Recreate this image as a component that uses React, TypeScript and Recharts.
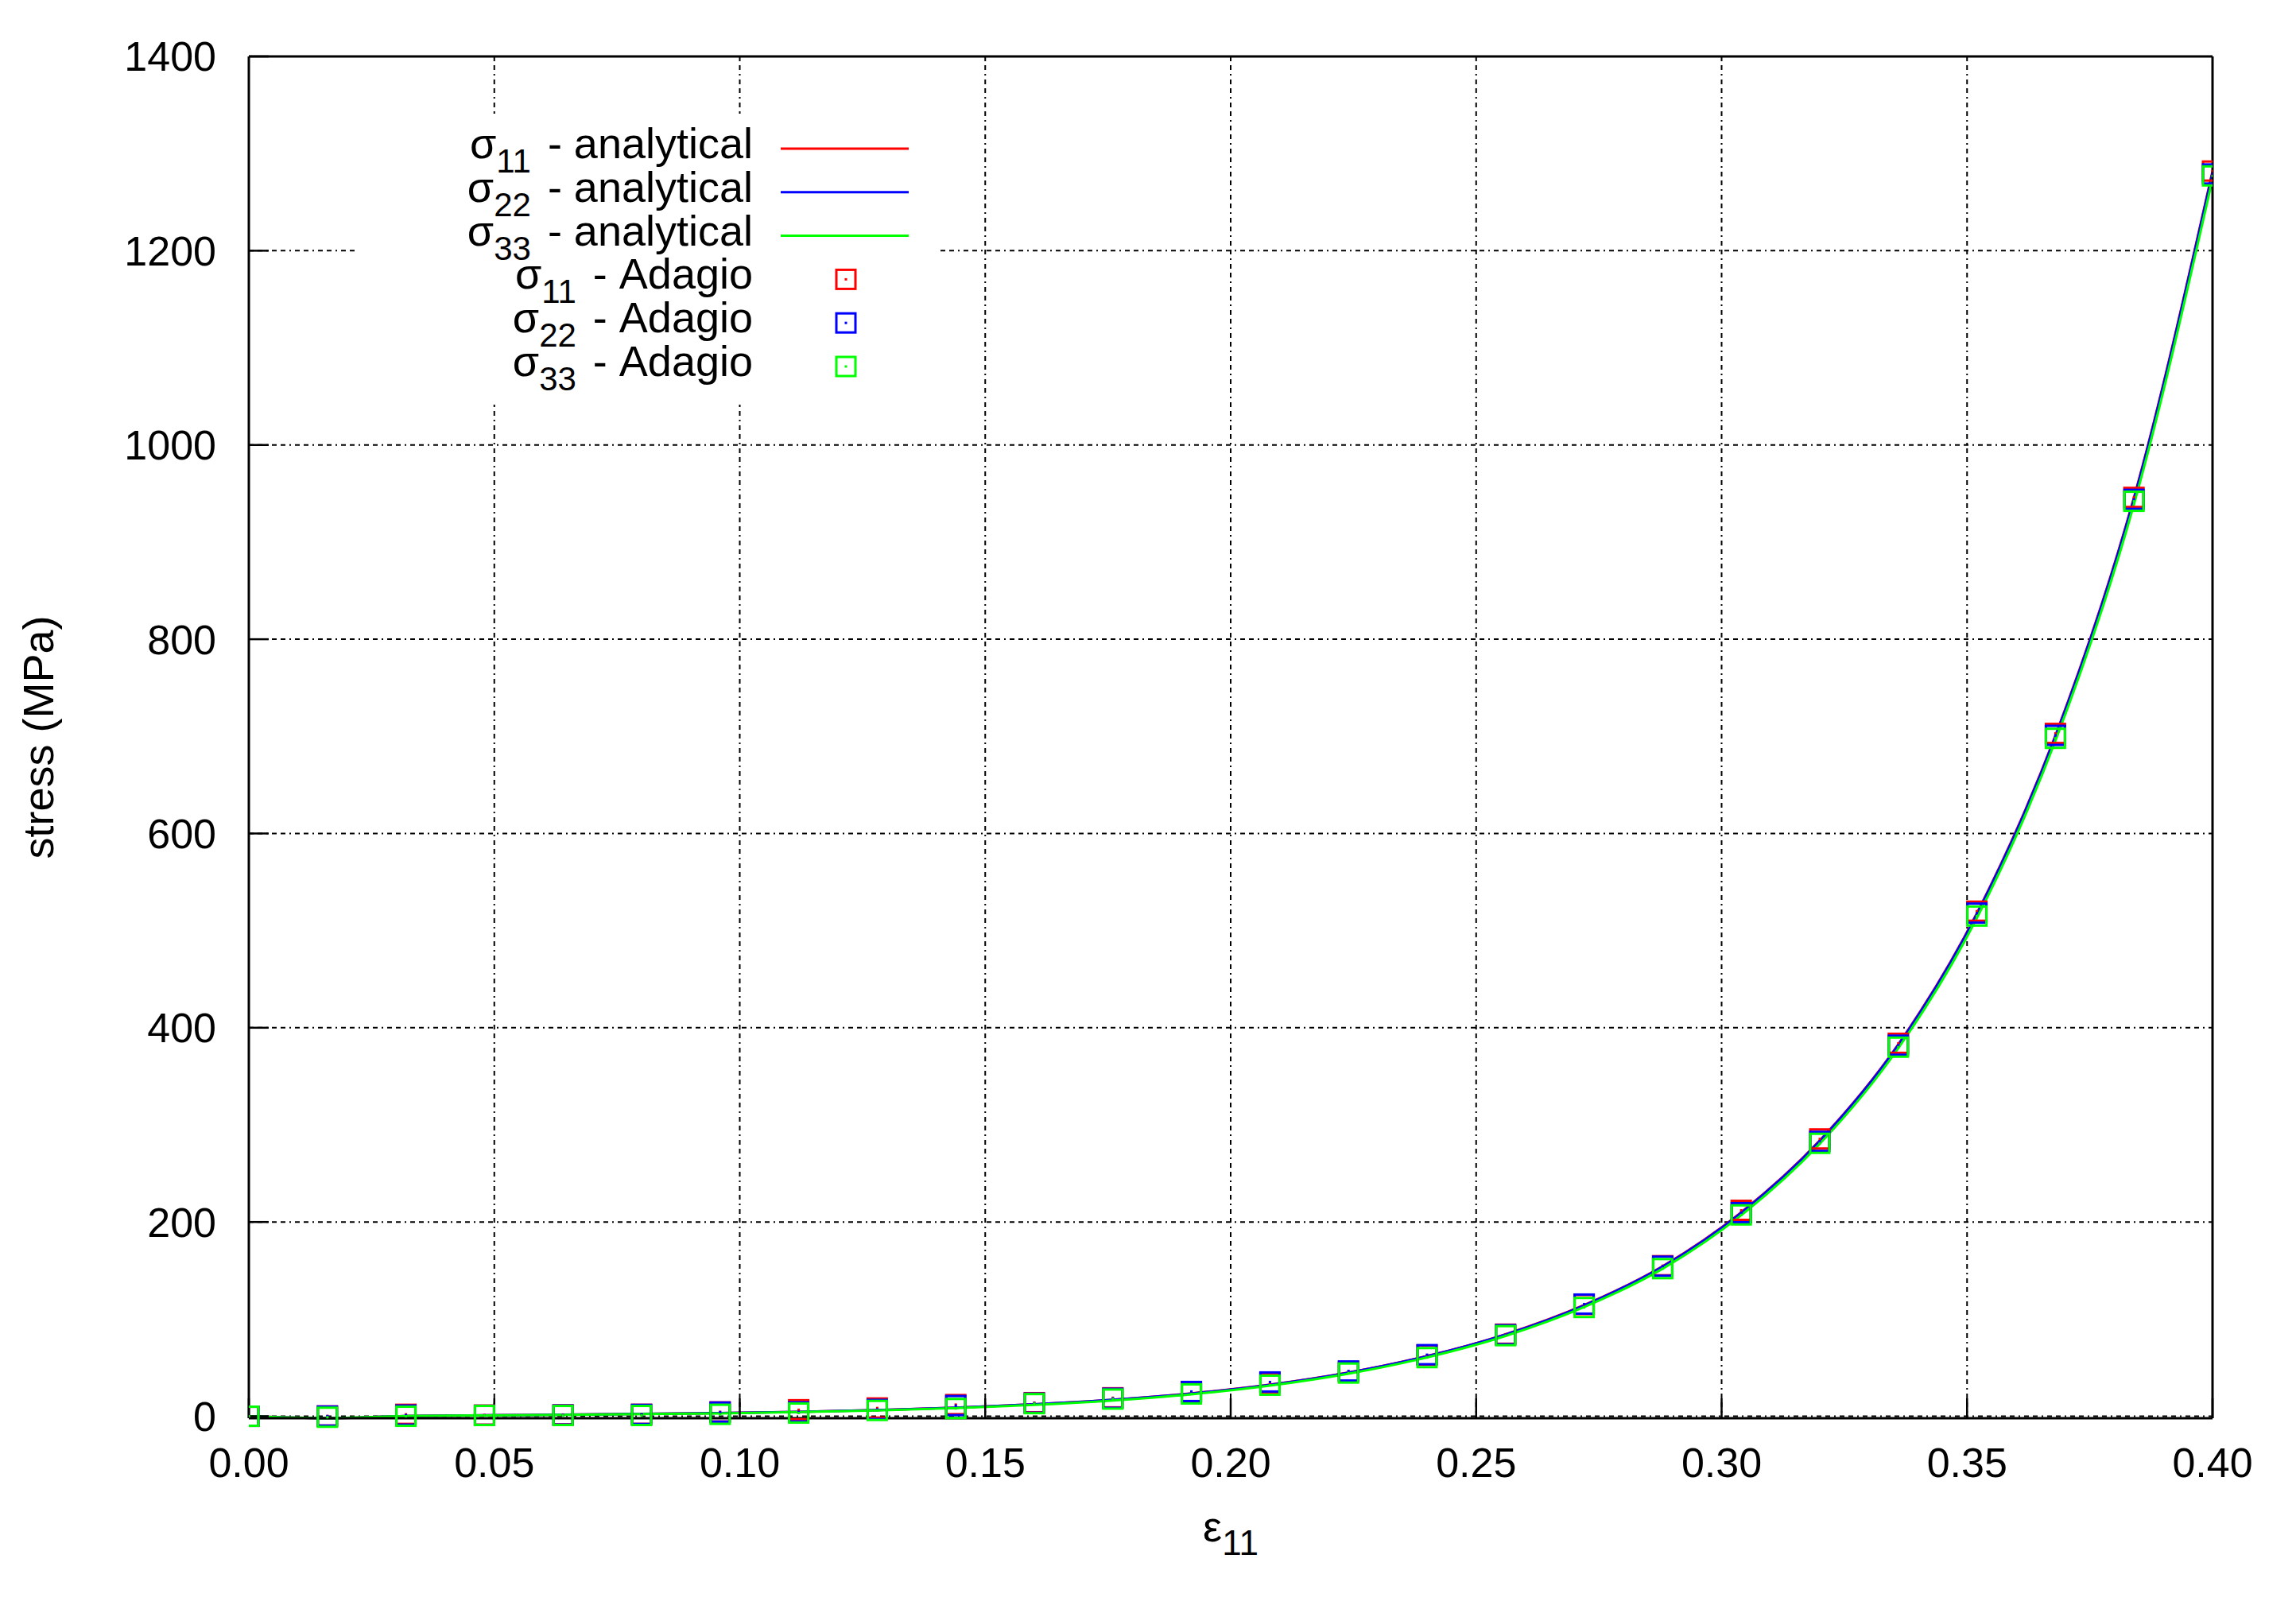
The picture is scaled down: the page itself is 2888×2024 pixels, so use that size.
import React from "react";
import {
  ComposedChart,
  Line,
  Scatter,
  XAxis,
  YAxis,
  CartesianGrid,
  Legend,
  Label,
} from "recharts";

// strain steps (epsilon_11)
const strain = [
  0, 0.016, 0.032, 0.048, 0.064, 0.08, 0.096, 0.112, 0.128, 0.144, 0.16, 0.176,
  0.192, 0.208, 0.224, 0.24, 0.256, 0.272, 0.288, 0.304, 0.32, 0.336, 0.352,
  0.368, 0.384, 0.4,
];

// analytical curves (MPa)
const s11Analytical = [
  0, -2, 0.3, 1, 1.6, 2.4, 3.3, 4.6, 6.4, 8.9, 12.3, 17, 23.5, 32.5, 45, 62,
  84.5, 114.5, 154.5, 210, 284, 383, 518, 701, 946, 1282,
];
const s22Analytical = [
  0, -2, 0.3, 1, 1.6, 2.4, 3.3, 4.6, 6.4, 8.9, 12.3, 17, 23.4, 32.4, 44.9, 61.8,
  84.2, 114.2, 154.1, 209.5, 283.4, 382.3, 517.2, 700, 944.8, 1280.5,
];
const s33Analytical = [
  0, -2, 0.2, 0.9, 1.4, 2.2, 3.0, 4.3, 6.0, 8.4, 11.7, 16.3, 22.6, 31.5, 43.8,
  60.6, 82.7, 112.4, 152, 207, 280.5, 379, 513, 695.5, 939, 1274,
];

// Adagio results (MPa)
const s11Adagio = [
  0, 0.3, 2, 1.2, 1.5, 2, 4.5, 6.7, 8.5, 12, 14, 19, 25, 34.5, 46, 63, 84.5,
  115, 155, 212, 285.5, 384, 520, 703, 946, 1282,
];
const s22Adagio = [
  0, 0.2, 1.2, 1, 1.3, 1.9, 4.3, 4.5, 7, 11, 13.5, 18.5, 25.5, 35.3, 46.6, 63.4,
  84, 115.5, 154.5, 209.6, 283, 382, 518, 701, 944, 1279,
];
const s33Adagio = [
  0, -1, 0, 0.8, 0.8, 0.8, 2, 3.3, 6, 8, 13, 17.7, 23, 32, 44.5, 60.4, 83, 112,
  152, 207.3, 281, 380, 515, 698, 942, 1277,
];

const xTicks = [0, 0.05, 0.1, 0.15, 0.2, 0.25, 0.3, 0.35, 0.4];
const yTicks = [0, 200, 400, 600, 800, 1000, 1200, 1400];

const RED = "#ff0000";
const BLUE = "#0000ff";
const GREEN = "#00ff00";
const FONT = '"Liberation Sans", Arial, Helvetica, sans-serif';

const rows = strain.map((e, i) => ({
  strain: e,
  a11: s11Analytical[i],
  a22: s22Analytical[i],
  a33: s33Analytical[i],
  d11: s11Adagio[i],
  d22: s22Adagio[i],
  d33: s33Adagio[i],
}));

const legendEntries = [
  { sub: "11", text: "analytical", color: RED, kind: "line" },
  { sub: "22", text: "analytical", color: BLUE, kind: "line" },
  { sub: "33", text: "analytical", color: GREEN, kind: "line" },
  { sub: "11", text: "Adagio", color: RED, kind: "box" },
  { sub: "22", text: "Adagio", color: BLUE, kind: "box" },
  { sub: "33", text: "Adagio", color: GREEN, kind: "box" },
];

// gnuplot style hollow box with a centre dot
function boxShape(color: string) {
  return (props: any) => {
    const { cx, cy } = props;
    if (cx == null || cy == null) return <g />;
    return (
      <g>
        <rect x={cx - 12} y={cy - 12} width={24} height={24} fill="none" stroke={color} strokeWidth={3} />
        <rect x={cx - 1.5} y={cy - 1.5} width={3} height={3} fill={color} />
      </g>
    );
  };
}

// key box sits at (448, 143) on the page
function KeyBox() {
  return (
    <svg width={730} height={366} style={{ display: "block", overflow: "visible" }}>
      {legendEntries.map((e, i) => {
        const cy = 44 + 54.8 * i;
        return (
          <g key={i}>
            <text
              x={499}
              y={cy + 12}
              textAnchor="end"
              fontFamily={FONT}
              fontSize={54}
              fill="#000"
              style={{ whiteSpace: "pre" }}
            >
              σ
              <tspan fontSize={42} dy={18}>
                {e.sub}
              </tspan>
              <tspan dy={-18} dx={6}>
                {" - " + e.text}
              </tspan>
            </text>
            {e.kind === "line" ? (
              <line x1={534} x2={695} y1={cy} y2={cy} stroke={e.color} strokeWidth={3} />
            ) : (
              <g>
                <rect x={604} y={cy - 12} width={24} height={24} fill="none" stroke={e.color} strokeWidth={3} />
                <rect x={614.5} y={cy - 1.5} width={3} height={3} fill={e.color} />
              </g>
            )}
          </g>
        );
      })}
    </svg>
  );
}

function XTitle(props: any) {
  const { x, y, width } = props.viewBox;
  return (
    <text x={x + width / 2} y={y + 155} textAnchor="middle" fontFamily={FONT} fontSize={54} fill="#000">
      ε
      <tspan fontSize={44} dy={17}>
        11
      </tspan>
    </text>
  );
}

function YTitle(props: any) {
  const { y, height } = props.viewBox;
  const cx = 67;
  const cy = y + height / 2;
  return (
    <text
      x={cx}
      y={cy}
      transform={`rotate(-90, ${cx}, ${cy})`}
      textAnchor="middle"
      fontFamily={FONT}
      fontSize={54}
      fill="#000"
    >
      stress (MPa)
    </text>
  );
}

const axisLine = { stroke: "#000", strokeWidth: 3 };
const tickLine = { stroke: "#000", strokeWidth: 2.5 };
const tickFont = { fill: "#000", fontSize: 52, fontFamily: FONT };

export default function App() {
  return (
    <div style={{ position: "absolute", left: 0, top: 0, width: 2888, height: 2024, background: "#fff" }}>
      <ComposedChart
        width={2888}
        height={2024}
        data={rows}
        margin={{ top: 70, right: 104, bottom: 0, left: 0 }}
      >
        <CartesianGrid stroke="#000" strokeWidth={2} strokeDasharray="6 5 6 5 2 5" />
        <XAxis
          dataKey="strain"
          type="number"
          domain={[0, 0.4]}
          ticks={xTicks}
          interval={0}
          height={240}
          allowDataOverflow
          tickFormatter={(v: number) => v.toFixed(2)}
          axisLine={axisLine}
          tickLine={tickLine}
          tickSize={-25}
          tickMargin={62}
          tick={tickFont}
        >
          <Label content={XTitle} />
        </XAxis>
        <XAxis
          xAxisId="top"
          orientation="top"
          type="number"
          domain={[0, 0.4]}
          ticks={xTicks}
          interval={0}
          height={1}
          axisLine={axisLine}
          tickLine={tickLine}
          tickSize={-25}
          tick={false}
        />
        <YAxis
          type="number"
          domain={[0, 1400]}
          ticks={yTicks}
          interval={0}
          width={313}
          axisLine={axisLine}
          tickLine={tickLine}
          tickSize={-25}
          tickMargin={66}
          tick={tickFont}
        >
          <Label content={YTitle} />
        </YAxis>
        <YAxis
          yAxisId="right"
          orientation="right"
          type="number"
          domain={[0, 1400]}
          ticks={yTicks}
          interval={0}
          width={1}
          axisLine={axisLine}
          tickLine={tickLine}
          tickSize={-25}
          tick={false}
        />
        <Line dataKey="a11" type="monotone" stroke={RED} strokeWidth={3} dot={false} isAnimationActive={false} />
        <Line dataKey="a22" type="monotone" stroke={BLUE} strokeWidth={3} dot={false} isAnimationActive={false} />
        <Line dataKey="a33" type="monotone" stroke={GREEN} strokeWidth={3} dot={false} isAnimationActive={false} />
        <Scatter dataKey="d11" fill={RED} shape={boxShape(RED)} isAnimationActive={false} />
        <Scatter dataKey="d22" fill={BLUE} shape={boxShape(BLUE)} isAnimationActive={false} />
        <Scatter dataKey="d33" fill={GREEN} shape={boxShape(GREEN)} isAnimationActive={false} />
        <Legend
          layout="vertical"
          align="center"
          verticalAlign="middle"
          content={() => <KeyBox />}
          wrapperStyle={{ position: "absolute", left: 448, top: 143, width: 730, height: 366, background: "#fff" }}
        />
      </ComposedChart>
    </div>
  );
}
